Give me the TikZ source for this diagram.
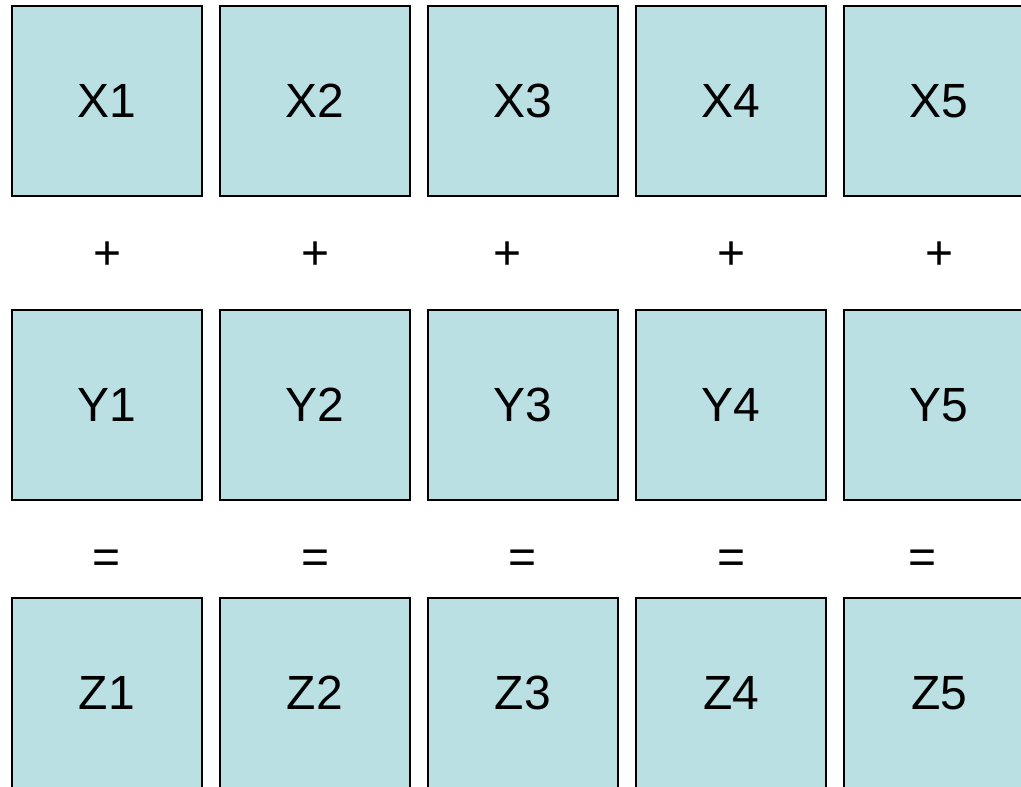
\documentclass[tikz,border=0pt]{standalone}
\usepackage{fontspec}
\setmainfont{Liberation Sans}
\definecolor{cellfill}{RGB}{187,224,227}
\tikzset{
  cell/.style={draw=black, line width=1.8pt, fill=cellfill, minimum width=142.5pt,
    minimum height=142.5pt, inner sep=0pt, font=\fontsize{36}{40}\selectfont},
  oper/.style={inner sep=0pt, font=\fontsize{36}{40}\selectfont}
}
\begin{document}
\begin{tikzpicture}[x=0.75pt, y=-0.75pt]
  \useasboundingbox (0,0) rectangle (1021,787);
  \clip (0,0) rectangle (1021,787);
  \fill[white] (0,0) rectangle (1021,787);

  % three rows of cells
  \foreach \c in {1,...,5} {
    \node[cell] (x\c) at ({107+208*(\c-1)},101) {X\c};
    \node[cell] (y\c) at ({107+208*(\c-1)},405) {Y\c};
    \node[cell] (z\c) at ({107+208*(\c-1)},693) {Z\c};
  }

  % plus signs
  \foreach \c/\px in {1/108,2/316,3/508,4/732,5/940}
    \node[oper] (p\c) at (\px,256) {+};

  % equal signs
  \foreach \c/\ex in {1/107,2/316,3/523,4/732,5/923}
    \node[oper] (e\c) at (\ex,562) {=};
\end{tikzpicture}
\end{document}
